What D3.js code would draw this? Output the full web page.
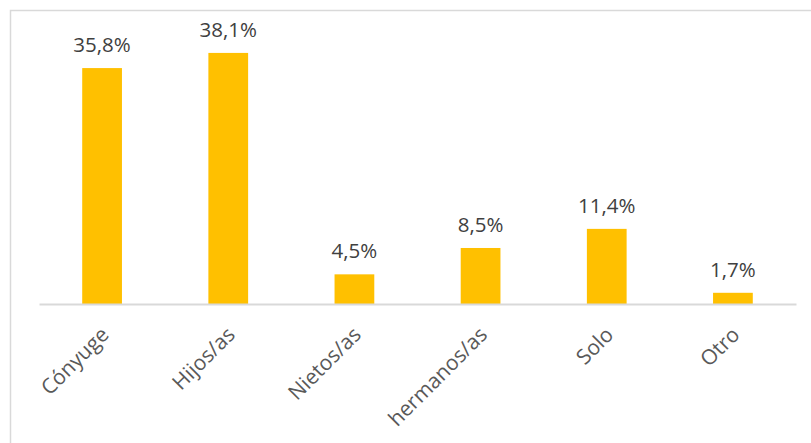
<!DOCTYPE html>
<html>
<head>
<meta charset="utf-8">
<script src="https://cdn.jsdelivr.net/npm/d3@7"></script>
<style>
  html, body { margin: 0; padding: 0; background: #fff; }
  svg { display: block; }
</style>
</head>
<body>
<script>
// Household composition shares (%)
const categories = ["Cónyuge", "Hijos/as", "Nietos/as", "hermanos/as", "Solo", "Otro"];
const values = [35.8, 38.1, 4.5, 8.5, 11.4, 1.7];
const valueLabels = ["35,8%", "38,1%", "4,5%", "8,5%", "11,4%", "1,7%"];

const W = 811, H = 443;
const svg = d3.select("body").append("svg").attr("width", W).attr("height", H);

// Outer chart frame (extends past the right and bottom edges)
svg.append("rect")
  .attr("x", 10.5).attr("y", 10.5)
  .attr("width", 830).attr("height", 460)
  .attr("fill", "#fff")
  .attr("stroke", "#d9d9d9").attr("stroke-width", 1.5);

const plot = { left: 39, right: 796, top: 40.4, bottom: 304 };

const x = d3.scaleBand().domain(categories).range([plot.left, plot.right]).padding(0);
const y = d3.scaleLinear().domain([0, 40]).range([plot.bottom, plot.top]);
const barW = x.bandwidth() * 0.315;

const fontFam = "'Open Sans', 'Noto Sans', sans-serif";

// Bars
svg.append("g").selectAll("rect").data(values).join("rect")
  .attr("x", (d, i) => x(categories[i]) + x.bandwidth() / 2 - barW / 2)
  .attr("y", d => y(d))
  .attr("width", barW)
  .attr("height", d => y(0) - y(d))
  .attr("fill", "#ffc000");

// Value labels
svg.append("g").selectAll("text").data(values).join("text")
  .attr("x", (d, i) => x(categories[i]) + x.bandwidth() / 2)
  .attr("y", d => y(d) - 16)
  .attr("text-anchor", "middle")
  .attr("font-family", fontFam)
  .attr("font-size", 20.5)
  .attr("fill", "#404040")
  .text((d, i) => valueLabels[i]);

// Category axis
const axis = svg.append("g")
  .attr("transform", `translate(0,${plot.bottom})`)
  .call(d3.axisBottom(x).tickSize(0).tickSizeOuter(0));
axis.select(".domain").attr("stroke", "#d9d9d9").attr("stroke-width", 2);
axis.selectAll(".tick text")
  .attr("font-family", fontFam)
  .attr("font-size", 21)
  .attr("fill", "#595959")
  .attr("text-anchor", "end")
  .attr("dy", 0)
  .attr("y", 0)
  .attr("transform", "translate(8,32) rotate(-45)");
</script>
</body>
</html>
